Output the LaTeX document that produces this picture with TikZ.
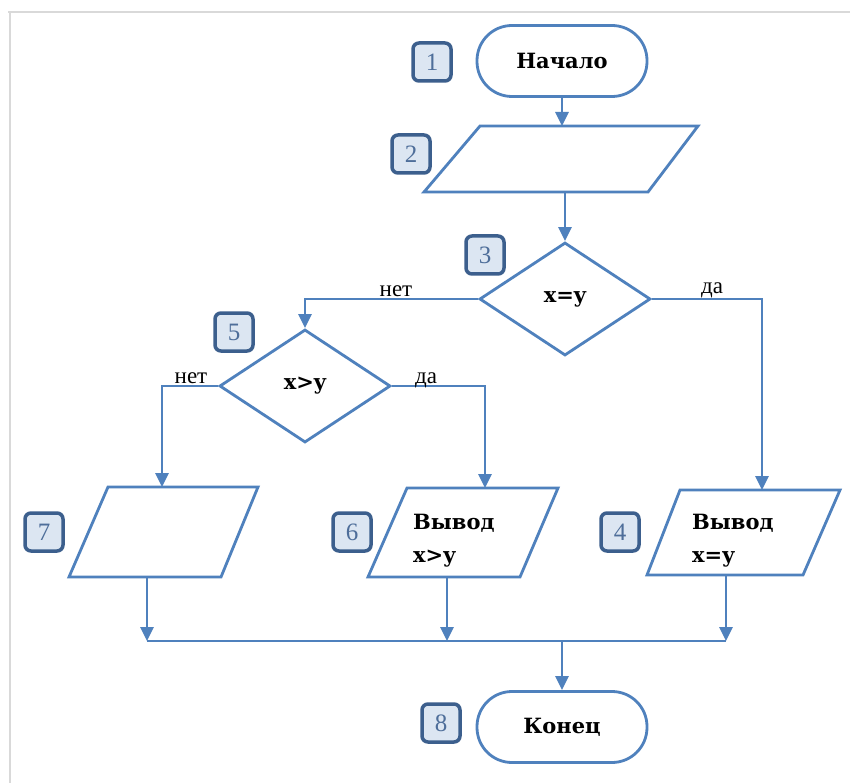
\documentclass[tikz,border=0pt]{standalone}
\usepackage{fontspec}
\setmainfont{Liberation Serif}
\newfontfamily\codefont{DejaVu Serif}
\usetikzlibrary{arrows.meta,shapes.geometric}
\definecolor{flowblue}{HTML}{4F81BD}
\definecolor{tagedge}{HTML}{3C5F8D}
\definecolor{tagfill}{HTML}{DCE6F2}
\definecolor{tagtext}{HTML}{4E6E9A}
\definecolor{framegray}{HTML}{D9D9D9}
\tikzset{
  block/.style={draw=flowblue, line width=2.8pt, fill=white},
  codetext/.style={font=\codefont\bfseries\fontsize{21}{26}\selectfont},
  terminal/.style={block, codetext, rounded corners=35pt, minimum width=170pt,
    minimum height=71pt, inner sep=0pt},
  decision/.style={block, codetext, shape=diamond, minimum width=171pt,
    minimum height=113pt, inner sep=0pt},
  iobox/.style={block, line join=miter},
  iotext/.style={codetext, anchor=base west, inner sep=0pt},
  numbox/.style={draw=tagedge, fill=tagfill, line width=3.5pt, rounded corners=6pt,
    minimum width=38pt, minimum height=38pt, inner sep=0pt,
    font=\fontsize{25}{28}\selectfont, text=tagtext},
  branch/.style={inner sep=0pt, anchor=base, font=\fontsize{23}{26}\selectfont},
  flowline/.style={draw=flowblue, line width=2.8pt},
  flowarrow/.style={flowline, -{Triangle[length=14pt,width=13pt]}},
}
\begin{document}
\begin{tikzpicture}[x=1pt,y=-1pt]
  \useasboundingbox (0,0) rectangle (850,783);
  \fill[white] (0,0) rectangle (850,783);
  % page frame
  \draw[framegray, line width=2.2pt] (8,12) -- (850,12);
  \draw[framegray, line width=2.2pt] (10,12) -- (10,783);

  % terminals and decisions
  \node[terminal] (start) at (562,61) {Начало};
  \node[decision] (d3) at (565,299) {x=y};
  \node[decision] (d5) at (305,386) {x>y};
  \node[terminal] (end) at (562,727) {Конец};

  % input / output blocks
  \draw[iobox] (480,126) -- (698,126) -- (648,192) -- (424,192) -- cycle;
  \coordinate (p2t) at (562,126);
  \coordinate (p2b) at (565,192);

  \draw[iobox] (108,487) -- (258,487) -- (221,577) -- (69,577) -- cycle;
  \coordinate (p7t) at (162,487);
  \coordinate (p7b) at (147,577);

  \draw[iobox] (407,488) -- (558,488) -- (520,577) -- (368,577) -- cycle;
  \coordinate (p6t) at (485,488);
  \coordinate (p6b) at (447,577);
  \node[iotext] (t6a) at (413,529) {Вывод};
  \node[iotext] (t6b) at (413,562) {x>y};

  \draw[iobox] (680,490) -- (840,490) -- (803,575) -- (647,575) -- cycle;
  \coordinate (p4t) at (762,490);
  \coordinate (p4b) at (726,575);
  \node[iotext] (t4a) at (692,529) {Вывод};
  \node[iotext] (t4b) at (692,562) {x=y};

  % connectors
  \draw[flowarrow] (start.south) -- (p2t);
  \draw[flowarrow] (p2b) -- (d3.north);
  \draw[flowarrow] (d3.west) -| (d5.north);
  \draw[flowarrow] (d3.east) -| (p4t);
  \draw[flowarrow] (d5.east) -| (p6t);
  \draw[flowarrow] (d5.west) -| (p7t);

  \coordinate (j7) at (147,641);
  \coordinate (j6) at (447,641);
  \coordinate (j4) at (726,641);
  \coordinate (jm) at (562,641);
  \draw[flowarrow] (p7b) -- (j7);
  \draw[flowarrow] (p6b) -- (j6);
  \draw[flowarrow] (p4b) -- (j4);
  \draw[flowline] (j7) -- (j4);
  \draw[flowarrow] (jm) -- (end.north);

  % branch labels
  \node[branch] (l3n) at (396,296) {нет};
  \node[branch] (l3y) at (712,294) {да};
  \node[branch] (l5n) at (191,383) {нет};
  \node[branch] (l5y) at (426,383) {да};

  % step numbers
  \node[numbox] (n1) at (432,62) {1};
  \node[numbox] (n2) at (411,154) {2};
  \node[numbox] (n3) at (485,255) {3};
  \node[numbox] (n5) at (234,332) {5};
  \node[numbox] (n7) at (44,532) {7};
  \node[numbox] (n6) at (352,532) {6};
  \node[numbox] (n4) at (620,532) {4};
  \node[numbox] (n8) at (441,723) {8};
\end{tikzpicture}
\end{document}
